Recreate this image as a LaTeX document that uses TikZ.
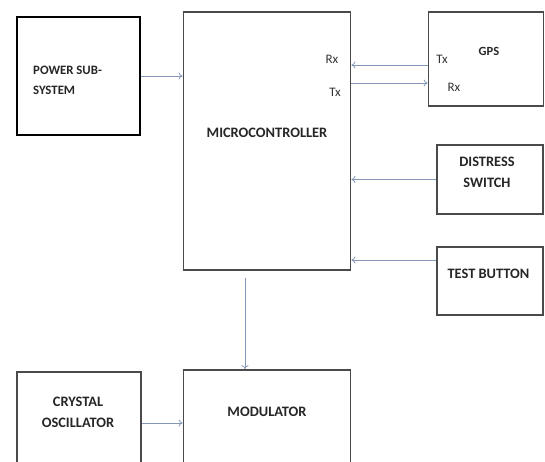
\documentclass[tikz,border=0pt]{standalone}
\usepackage{fontspec}
\setmainfont{Carlito}
\usetikzlibrary{arrows.meta,positioning}
\definecolor{boxgray}{HTML}{4A4A4A}
\definecolor{linkblue}{HTML}{8496B8}
\tikzset{font=\fontsize{13}{16}\selectfont}
\tikzset{block/.style={draw=boxgray,line width=1.8pt,inner sep=0pt}}
\tikzset{link/.style={draw=linkblue,line width=0.8pt,-{To[length=4pt,width=7pt]}}}
\tikzset{lbl/.style={inner sep=0pt,font=\fontsize{14.4}{20.5}\selectfont\bfseries,text=black!85}}
\tikzset{pin/.style={inner sep=0pt,text=black!80}}

\begin{document}
\begin{tikzpicture}[x=1pt,y=-1pt]
  \useasboundingbox (0,0) rectangle (545,461);
  % blocks
  \node[block,draw=black,line width=2.6pt,minimum width=123pt,minimum height=118pt] (power) at (78.5,76) {};
  \node[block,minimum width=167pt,minimum height=258pt] (micro) at (267,141) {};
  \node[block,minimum width=115pt,minimum height=94pt] (gps) at (486,59) {};
  \node[block,minimum width=106pt,minimum height=69pt] (distress) at (490,179.5) {};
  \node[block,minimum width=106pt,minimum height=68pt] (test) at (490,281) {};
  \node[block,minimum width=124pt,minimum height=104pt] (crystal) at (79,424) {};
  \node[block,minimum width=167pt,minimum height=106pt] (mod) at (267,423) {};
  % texts
  \node[lbl,font=\fontsize{12.8}{20}\selectfont\bfseries,align=left,anchor=west] (powertxt) at (33,80) {POWER SUB-\\SYSTEM};
  \node[lbl] (microtxt) at (267,133) {MICROCONTROLLER};
  \node[pin] (mrx) at (332,59) {Rx};
  \node[pin] (mtx) at (335,92) {Tx};
  \node[lbl,font=\fontsize{12.5}{16}\selectfont\bfseries] (gpstxt) at (489,51) {GPS};
  \node[pin] (gtx) at (442,59) {Tx};
  \node[pin] (grx) at (454,87) {Rx};
  \node[lbl,align=center] (distresstxt) at (487,172.5) {DISTRESS\\SWITCH};
  \node[lbl] (testtxt) at (488.5,274) {TEST BUTTON};
  \node[lbl,align=center] (crystaltxt) at (78,412.5) {CRYSTAL\\OSCILLATOR};
  \node[lbl] (modtxt) at (267,412) {MODULATOR};
  % links
  \draw[link] (power.east) -- (power.east -| micro.west);
  \draw[link] ([yshift=-6pt]gps.west) -- ([yshift=-6pt]gps.west -| micro.east);
  \draw[link] ([yshift=-24pt]micro.north east |- gps.west) -- ([yshift=-24pt]gps.west);
  \draw[link] (distress.west) -- (distress.west -| micro.east);
  \draw[link] ([yshift=21pt]test.west) -- ([yshift=21pt]test.west -| micro.east);
  \draw[link] ([xshift=-22pt,yshift=-7pt]micro.south) -- ([xshift=-22pt]mod.north);
  \draw[link] (crystal.east |- mod.center) -- (mod.west);
\end{tikzpicture}
\end{document}
